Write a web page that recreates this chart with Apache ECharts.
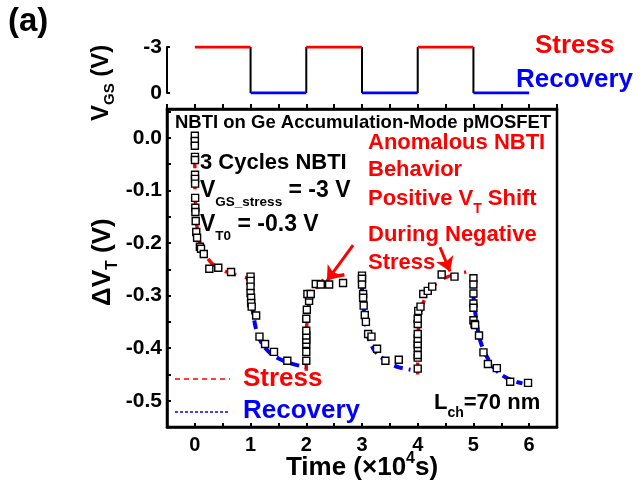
<!DOCTYPE html>
<html>
<head>
<meta charset="utf-8">
<script src="https://cdn.jsdelivr.net/npm/echarts@6.0.0/dist/echarts.min.js"></script>
<style>
  html, body { margin: 0; padding: 0; background: #fff; }
  #main { width: 642px; height: 486px; }
</style>
</head>
<body>
<div id="main"></div>
<script>
// time unit: 1e4 s
// gate bias waveform (top panel)
const stressWindows = [[0, 1], [2, 3], [4, 5]];
const recoveryWindows = [[1, 2], [3, 4], [5, 6]];
const switchTimes = [1, 2, 3, 4, 5];
const vgsStress = -3;
const vgsRecovery = 0;

// measured dVt (V), [time, dVt]
const stress1Meas = [
  [0, 0.004], [0, -0.006], [0, -0.015], [0.002, -0.036], [0.002, -0.042],
  [0.003, -0.070], [0.003, -0.078], [0.004, -0.087], [0.005, -0.114],
  [0.008, -0.133], [0.01, -0.141], [0.015, -0.158], [0.025, -0.179],
  [0.04, -0.190], [0.09, -0.207], [0.11, -0.211], [0.16, -0.221],
  [0.26, -0.249], [0.42, -0.247], [0.65, -0.255]
];
const recovery1Meas = [
  [1.0, -0.264], [1.0, -0.272], [1.0, -0.283], [1.0, -0.295], [1.01, -0.304],
  [1.01, -0.314], [1.02, -0.321], [1.10, -0.338], [1.16, -0.378],
  [1.26, -0.392], [1.42, -0.407], [1.66, -0.424]
];
const stress2Meas = [
  [2.0, -0.424], [2.0, -0.407], [2.0, -0.392], [2.0, -0.384], [2.0, -0.376],
  [2.0, -0.367], [2.0, -0.344], [2.01, -0.327], [2.05, -0.310], [2.05, -0.300],
  [2.02, -0.297], [2.08, -0.297], [2.17, -0.278], [2.26, -0.279],
  [2.41, -0.279], [2.66, -0.276]
];
const recovery2Meas = [
  [3.0, -0.262], [3.0, -0.268], [3.0, -0.279], [3.02, -0.297], [3.02, -0.304],
  [3.03, -0.319], [3.05, -0.337], [3.07, -0.350], [3.11, -0.373],
  [3.17, -0.378], [3.27, -0.401], [3.42, -0.424], [3.66, -0.422]
];
const stress3Meas = [
  [4.0, -0.439], [4.0, -0.418], [4.0, -0.413], [4.0, -0.399], [4.0, -0.392],
  [4.0, -0.382], [4.0, -0.373], [4.0, -0.354], [4.0, -0.344], [4.01, -0.329],
  [4.05, -0.321], [4.1, -0.297], [4.18, -0.291], [4.26, -0.283],
  [4.43, -0.260], [4.66, -0.264]
];
const recovery3Meas = [
  [5.0, -0.267], [5.0, -0.279], [5.0, -0.296], [5.0, -0.315], [5.0, -0.323],
  [5.0, -0.347], [5.02, -0.354], [5.03, -0.356], [5.10, -0.376],
  [5.18, -0.408], [5.26, -0.430], [5.42, -0.438], [5.66, -0.464], [5.98, -0.466]
];

// model fits
const stressFit1 = [
  [0, 0.005], [0, -0.082], [0.02, -0.148], [0.07, -0.192], [0.18, -0.221],
  [0.32, -0.240], [0.57, -0.255], [0.79, -0.262], [0.99, -0.268]
];
const recoveryFit1 = [
  [1.0, -0.262], [1.01, -0.300], [1.04, -0.330], [1.09, -0.360], [1.15, -0.380],
  [1.24, -0.397], [1.38, -0.412], [1.55, -0.422], [1.75, -0.430], [1.99, -0.436]
];
const stressFit2 = [
  [2.0, -0.443], [2.0, -0.367], [2.03, -0.338], [2.06, -0.310], [2.15, -0.289],
  [2.26, -0.274], [2.41, -0.266], [2.75, -0.259]
];
const recoveryFit2 = [
  [3.0, -0.256], [3.0, -0.285], [3.01, -0.300], [3.03, -0.316], [3.04, -0.344],
  [3.07, -0.359], [3.1, -0.375], [3.15, -0.390], [3.22, -0.404], [3.33, -0.416],
  [3.48, -0.428], [3.65, -0.436], [3.87, -0.441]
];
const stressFit3 = [
  [4.0, -0.450], [4.0, -0.380], [4.03, -0.350], [4.08, -0.320], [4.16, -0.298],
  [4.28, -0.282], [4.45, -0.268], [4.65, -0.260], [4.87, -0.255]
];
const recoveryFit3 = [
  [5.0, -0.268], [5.0, -0.295], [5.01, -0.314], [5.03, -0.330], [5.06, -0.352],
  [5.09, -0.372], [5.14, -0.392], [5.22, -0.412], [5.35, -0.435], [5.48, -0.449],
  [5.62, -0.458], [5.77, -0.464], [5.88, -0.467]
];

// annotation arrows [from, to]
const arrows = [
  [[2.84, -0.204], [2.37, -0.272]],
  [[4.40, -0.208], [4.58, -0.254]]
];

const RED = '#ff0000';
const BLUE = '#0000ff';
const FONT = '"Liberation Sans", Arial, sans-serif';

const ctx = document.createElement('canvas').getContext('2d');
function textWidth(txt, size) {
  ctx.font = 'bold ' + size + 'px ' + FONT;
  return ctx.measureText(txt).width;
}

// pieces: [text, size, dy]; draws a run of text with sub/superscripts
function textRun(x, y, pieces, color, rotated) {
  let adv = 0;
  const out = [];
  pieces.forEach(function (p) {
    const size = p[1], dy = p[2] || 0;
    out.push({
      type: 'text',
      x: rotated ? x + dy : x + adv,
      y: rotated ? y - adv : y + dy,
      rotation: rotated ? Math.PI / 2 : 0,
      silent: true,
      z: 100,
      style: {
        text: p[0], fill: color, font: 'bold ' + size + 'px ' + FONT,
        textAlign: 'left', align: 'left',
        textVerticalAlign: 'middle', verticalAlign: 'middle'
      }
    });
    adv += textWidth(p[0], size);
  });
  return out;
}
function runWidth(pieces) {
  return pieces.reduce(function (s, p) { return s + textWidth(p[0], p[1]); }, 0);
}

function windowLine(windows, v) {
  const d = [];
  windows.forEach(function (w) { d.push([w[0], v], [w[1], v], [w[1], '-']); });
  return d;
}
const switchLine = [];
switchTimes.forEach(function (t) { switchLine.push([t, vgsStress], [t, vgsRecovery], [t, '-']); });

function fitSeries(data, color, width, dash) {
  return {
    type: 'line', xAxisIndex: 1, yAxisIndex: 1, data: data,
    showSymbol: false, symbol: 'none', smooth: 0.25, silent: true, z: 3,
    lineStyle: { color: color, width: width, type: dash, cap: 'butt' }
  };
}

const timeTitle = [['Time (\u00d710', 26, 0], ['4', 16, -9], ['s)', 26, 0]];

const graphics = [].concat(
  textRun(8, 22, [['(a)', 33]], '#000'),
  textRun(535, 46, [['Stress', 26]], RED),
  textRun(516, 80, [['Recovery', 26]], BLUE),
  textRun(101, 121, [['V', 24, 0], ['GS', 15, 9], [' (V)', 24, 0]], '#000', true),
  textRun(103, 306, [['\u0394V', 26, 0], ['T', 16, 10], [' (V)', 26, 0]], '#000', true),
  textRun(362 - runWidth(timeTitle) / 2, 468, timeTitle, '#000'),
  textRun(175, 123, [['NBTI on Ge Accumulation-Mode pMOSFET', 18.5]], '#000'),
  textRun(200, 163, [['3 Cycles NBTI', 22]], '#000'),
  textRun(200, 191, [['V', 23, 0], ['GS_stress', 13.5, 11], [' = -3 V', 23, 0]], '#000'),
  textRun(200, 225, [['V', 23, 0], ['T0', 13.5, 11], [' = -0.3 V', 23, 0]], '#000'),
  textRun(368, 143, [['Anomalous NBTI', 22]], RED),
  textRun(368, 170, [['Behavior', 22]], RED),
  textRun(368, 199, [['Positive V', 22, 0], ['T', 14, 10], [' Shift', 22, 0]], RED),
  textRun(368, 235, [['During Negative', 22]], RED),
  textRun(368, 263, [['Stress', 22]], RED),
  textRun(434, 403, [['L', 22, 0], ['ch', 14, 10], ['=70 nm', 22, 0]], '#000'),
  textRun(243, 379, [['Stress', 26]], RED),
  textRun(243, 411, [['Recovery', 26]], BLUE),
  [
    { type: 'line', silent: true, z: 100, shape: { x1: 175, y1: 379, x2: 230, y2: 379 },
      style: { stroke: RED, lineWidth: 1.5, lineDash: [5, 4] } },
    { type: 'line', silent: true, z: 100, shape: { x1: 175, y1: 412, x2: 230, y2: 412 },
      style: { stroke: BLUE, lineWidth: 1.5, lineDash: [3, 2] } }
  ]
);

const labelFont = { color: '#000', fontWeight: 'bold', fontFamily: FONT };

const chart = echarts.init(document.getElementById('main'), null, { renderer: 'canvas' });
chart.setOption({
  animation: false,
  backgroundColor: '#fff',
  grid: [
    { left: 167, top: 47, width: 390, height: 46, outerBoundsMode: 'none' },
    { left: 167, top: 109, width: 390, height: 318, show: true, borderColor: '#000',
      borderWidth: 2.5, backgroundColor: 'transparent', outerBoundsMode: 'none' }
  ],
  xAxis: [
    { type: 'value', gridIndex: 0, min: -0.5, max: 6.5, show: false },
    {
      type: 'value', gridIndex: 1, min: -0.5, max: 6.5, interval: 0.5, position: 'bottom',
      axisLine: { show: true, onZero: false, lineStyle: { color: '#000', width: 2.5 } },
      axisTick: { show: true, inside: true, length: 4, lineStyle: { color: '#000', width: 2 } },
      splitLine: { show: false },
      axisLabel: Object.assign({
        fontSize: 20, margin: 8,
        formatter: function (v) {
          return Math.abs(v - Math.round(v)) < 1e-6 ? String(Math.round(v)) : '';
        }
      }, labelFont)
    },
    {
      type: 'value', gridIndex: 1, min: -0.5, max: 6.5, interval: 0.5, position: 'top',
      axisLine: { show: true, onZero: false, lineStyle: { color: '#000', width: 2.5 } },
      axisTick: { show: true, inside: false, length: 5, lineStyle: { color: '#000', width: 2 } },
      splitLine: { show: false },
      axisLabel: { show: false }
    }
  ],
  yAxis: [
    {
      type: 'value', gridIndex: 0, min: -3, max: 0, interval: 3, inverse: true,
      axisLine: { show: true, onZero: false, lineStyle: { color: '#000', width: 2 } },
      axisTick: { show: true, inside: true, length: 3, lineStyle: { color: '#000', width: 2 } },
      splitLine: { show: false },
      axisLabel: Object.assign({ fontSize: 21, margin: 5 }, labelFont)
    },
    {
      type: 'value', gridIndex: 1, min: -0.55, max: 0.055, interval: 0.05,
      axisLine: { show: true, onZero: false, lineStyle: { color: '#000', width: 2.5 } },
      axisTick: { show: true, inside: true, length: 4, lineStyle: { color: '#000', width: 2 } },
      splitLine: { show: false },
      axisLabel: Object.assign({
        fontSize: 21, margin: 5,
        formatter: function (v) {
          const k = Math.round(v * 100);
          if (k % 10 !== 0 || v > 0.001) return '';
          return k === 0 ? '0.0' : (k / 100).toFixed(1);
        }
      }, labelFont)
    }
  ],
  graphic: graphics,
  series: [
    {
      type: 'line', xAxisIndex: 0, yAxisIndex: 0, data: switchLine, showSymbol: false,
      symbol: 'none', silent: true, connectNulls: false,
      lineStyle: { color: '#000', width: 2 }
    },
    {
      type: 'line', xAxisIndex: 0, yAxisIndex: 0, data: windowLine(stressWindows, vgsStress),
      showSymbol: false, symbol: 'none', silent: true, connectNulls: false,
      lineStyle: { color: RED, width: 3 }
    },
    {
      type: 'line', xAxisIndex: 0, yAxisIndex: 0, data: windowLine(recoveryWindows, vgsRecovery),
      showSymbol: false, symbol: 'none', silent: true, connectNulls: false,
      lineStyle: { color: BLUE, width: 3 }
    },
    fitSeries(stressFit1, RED, 3.5, [12, 9]),
    fitSeries(stressFit2, RED, 3.5, [12, 9]),
    fitSeries(stressFit3, RED, 3.5, [12, 9]),
    fitSeries(recoveryFit1, BLUE, 4, [9, 6]),
    fitSeries(recoveryFit2, BLUE, 4, [9, 6]),
    fitSeries(recoveryFit3, BLUE, 4, [9, 6]),
    {
      type: 'scatter', xAxisIndex: 1, yAxisIndex: 1, silent: true, z: 5,
      data: [].concat(stress1Meas, recovery1Meas, stress2Meas, recovery2Meas, stress3Meas, recovery3Meas),
      symbol: 'rect', symbolSize: 7,
      itemStyle: { color: '#fff', borderColor: '#000', borderWidth: 1.4, opacity: 1 },
      markLine: {
        silent: true, symbol: ['none', 'arrow'], symbolSize: 14, animation: false,
        label: { show: false },
        lineStyle: { color: RED, width: 3, type: 'solid' },
        data: arrows.map(function (a) { return [{ coord: a[0] }, { coord: a[1] }]; })
      }
    }
  ]
});
</script>
</body>
</html>
